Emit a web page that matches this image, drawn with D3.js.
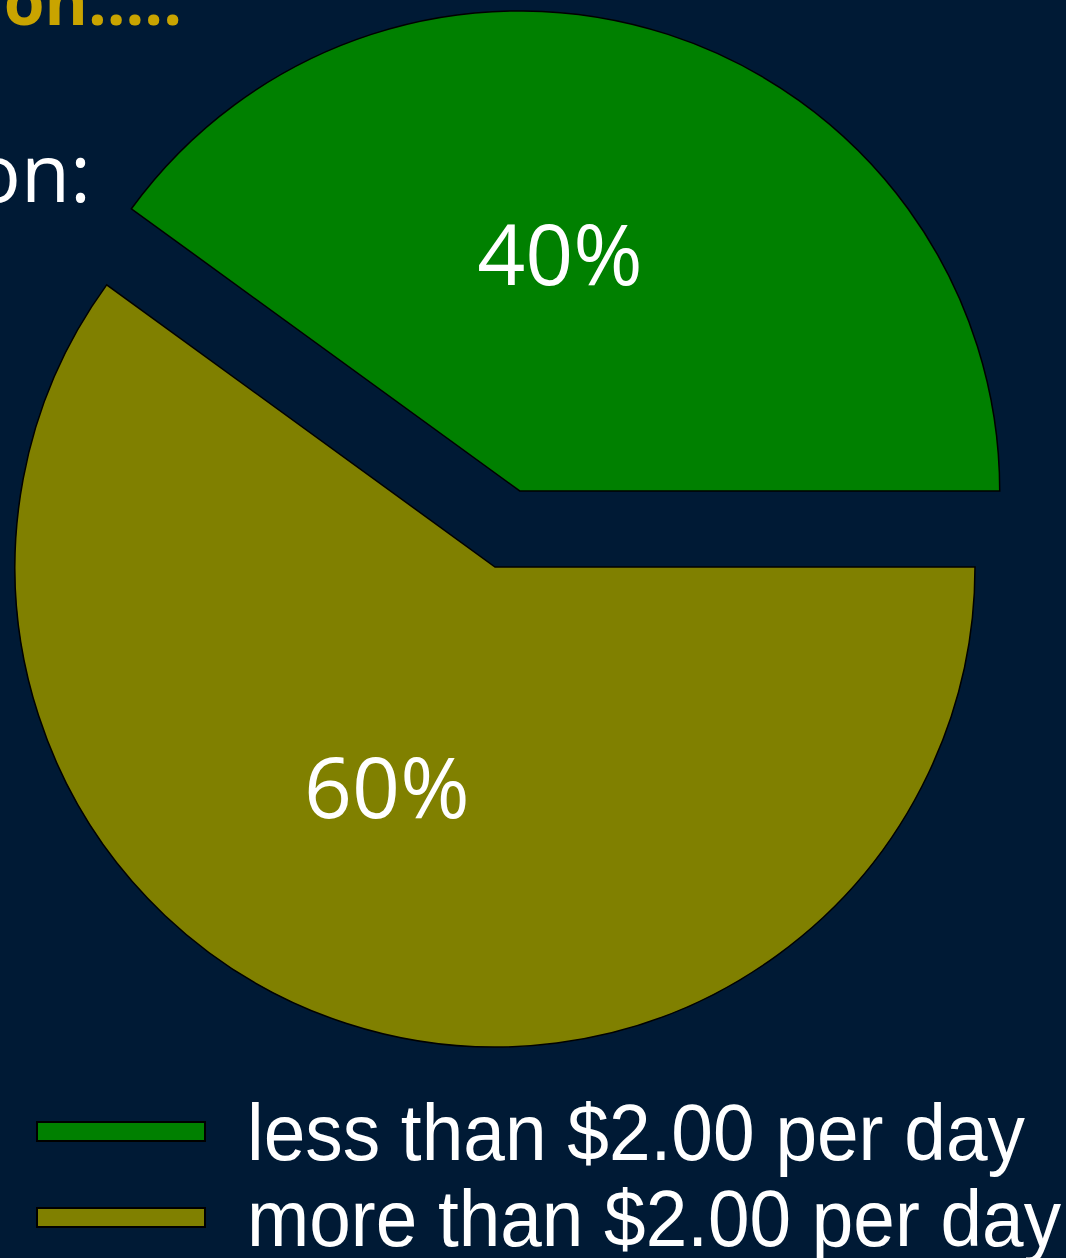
<!DOCTYPE html>
<html>
<head>
<meta charset="utf-8">
<script src="https://cdnjs.cloudflare.com/ajax/libs/d3/7.8.5/d3.min.js"></script>
<style>
  html, body { margin: 0; padding: 0; background: #001a35; overflow: hidden; }
  svg { display: block; }
</style>
</head>
<body>
<svg id="chart"></svg>
<script>
var categories = ['less than $2.00 per day', 'more than $2.00 per day'];
var shares = [40, 60];
var colors = ['#008000', '#808000'];
var exploded = [true, false];

var width = 1066;
var height = 1258;
var radius = 480;
var explodeBy = 80;

var svg = d3.select('#chart')
  .attr('width', width)
  .attr('height', height);

svg.append('rect')
  .attr('width', width)
  .attr('height', height)
  .attr('fill', '#001a35');

// leftover bits of the slide title, cut off by the frame
svg.append('text')
  .attr('x', 182)
  .attr('y', 25)
  .attr('text-anchor', 'end')
  .attr('font-family', 'Open Sans')
  .attr('font-weight', 'bold')
  .attr('font-size', 66)
  .attr('fill', '#c9a400')
  .text('on.....');

svg.append('text')
  .attr('x', 91)
  .attr('y', 202)
  .attr('text-anchor', 'end')
  .attr('font-family', 'Open Sans')
  .attr('font-size', 80)
  .attr('fill', '#ffffff')
  .text('on:');

var pie = d3.pie()
  .sort(null)
  .startAngle(-0.3 * Math.PI)
  .endAngle(1.7 * Math.PI)
  .value(function(d) { return d; });

var arc = d3.arc().innerRadius(0).outerRadius(radius);
var labelArc = d3.arc().innerRadius(240).outerRadius(240);

var arcs = pie(shares);

var g = svg.append('g')
  .attr('transform', 'translate(495,567)');

var slices = g.selectAll('g.slice')
  .data(arcs)
  .enter().append('g')
  .attr('class', 'slice')
  .attr('transform', function(d, i) {
    if (!exploded[i]) return null;
    var mid = (d.startAngle + d.endAngle) / 2;
    return 'translate(' + (Math.sin(mid) * explodeBy) + ',' + (-Math.cos(mid) * explodeBy) + ')';
  });

slices.append('path')
  .attr('d', arc)
  .attr('fill', function(d, i) { return colors[i]; })
  .attr('stroke', '#000')
  .attr('stroke-width', 1.5);

slices.append('text')
  .attr('transform', function(d) { return 'translate(' + labelArc.centroid(d) + ')'; })
  .attr('dx', -34)
  .attr('dy', -10)
  .attr('text-anchor', 'middle')
  .attr('dominant-baseline', 'central')
  .attr('font-family', 'Open Sans')
  .attr('font-size', 84)
  .attr('fill', '#ffffff')
  .text(function(d) { return d.data + '%'; });

// legend
var legend = svg.append('g')
  .attr('transform', 'translate(37,1122)');

var items = legend.selectAll('g.item')
  .data(categories)
  .enter().append('g')
  .attr('class', 'item')
  .attr('transform', function(d, i) { return 'translate(0,' + (i * 86) + ')'; });

items.append('rect')
  .attr('width', 168)
  .attr('height', 19)
  .attr('fill', function(d, i) { return colors[i]; })
  .attr('stroke', '#000')
  .attr('stroke-width', 2);

items.append('text')
  .attr('x', 210)
  .attr('y', 38)
  .attr('font-family', 'Liberation Sans, Arial, sans-serif')
  .attr('font-size', 80)
  .attr('textLength', function(d, i) { return i === 0 ? 778 : 814; })
  .attr('lengthAdjust', 'spacingAndGlyphs')
  .attr('fill', '#ffffff')
  .text(function(d) { return d; });
</script>
</body>
</html>
